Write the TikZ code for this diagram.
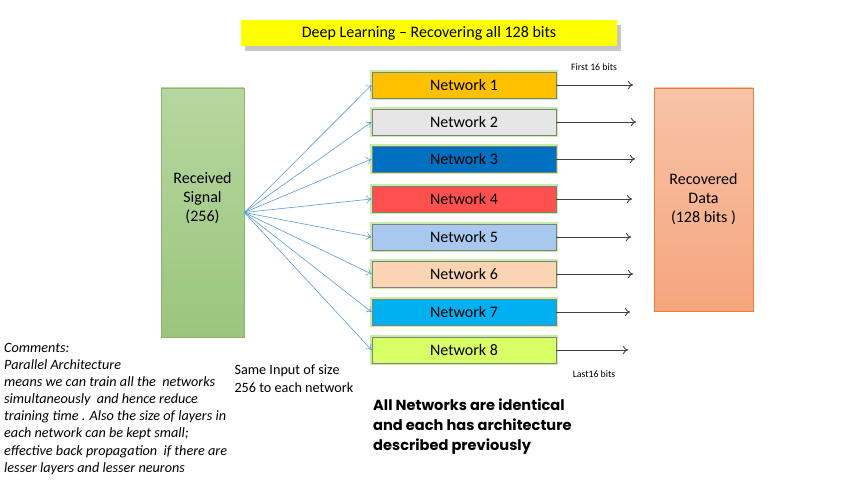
\documentclass[tikz,border=0pt]{standalone}
\usepackage{fontspec}
\setmainfont{Carlito}
\newfontfamily\geofont{Poppins}
\usepackage{xcolor}
\usepackage{tikz}
\usetikzlibrary{shadows, arrows.meta}
\definecolor{titleyellow}{RGB}{255, 255, 0}
\definecolor{signaltop}{RGB}{182, 215, 160}
\definecolor{signalbot}{RGB}{155, 197, 125}
\definecolor{signaledge}{RGB}{140, 180, 110}
\definecolor{datatop}{RGB}{248, 195, 168}
\definecolor{databot}{RGB}{245, 165, 126}
\definecolor{dataedge}{RGB}{237, 125, 49}
\definecolor{fanblue}{RGB}{91, 155, 213}
\definecolor{glowgreen}{RGB}{198, 236, 165}
\definecolor{netgold}{RGB}{255, 192, 0}
\definecolor{netgray}{RGB}{231, 230, 230}
\definecolor{netblue}{RGB}{0, 112, 192}
\definecolor{netred}{RGB}{255, 80, 80}
\definecolor{netsky}{RGB}{169, 200, 240}
\definecolor{netpeach}{RGB}{251, 212, 180}
\definecolor{netcyan}{RGB}{0, 176, 240}
\definecolor{netlime}{RGB}{217, 255, 102}

\begin{document}
\begin{tikzpicture}[x=1pt, y=-1pt,
    netbox/.style={preaction={draw=glowgreen, line width=4.5pt}, draw=black!50, line width=0.9pt,
        minimum width=184pt, minimum height=26pt, inner sep=0pt, font=\fontsize{16}{18}\selectfont},
    fan/.style={fanblue, line width=0.6pt, -{To[length=5pt, width=8pt]}},
    outarrow/.style={black!75, line width=0.9pt, -{To[length=5pt, width=8pt]}}]
\useasboundingbox (0,0) rectangle (863,481);
% title bar
\node[fill=titleyellow, minimum width=376pt, minimum height=26pt, inner sep=0pt,
    drop shadow={opacity=0.45, shadow xshift=4pt, shadow yshift=-5pt},
    font=\fontsize{16}{18}\selectfont] (title) at (429,33) {Deep Learning – Recovering all 128 bits};
% input and output blocks
\node[top color=signaltop, bottom color=signalbot, draw=signaledge, line width=0.6pt,
    minimum width=83pt, minimum height=249pt, inner sep=0pt] (signal) at (202.5,212.5) {};
\node[align=center, font=\fontsize{16}{19}\selectfont] (signaltext) at ([yshift=14pt]signal.center) {Received\\Signal\\(256)};
\node[top color=datatop, bottom color=databot, draw=dataedge, line width=0.8pt,
    minimum width=99pt, minimum height=223pt, inner sep=0pt, align=center,
    font=\fontsize{16}{19}\selectfont] (data) at (703.5,199.5) {Recovered\\Data\\(128 bits )};
% the eight networks
\foreach \i/\y/\col/\endx in {1/85/netgold/633, 2/122/netgray/636, 3/159/netblue/635, 4/199/netred/632,
    5/237/netsky/631, 6/274/netpeach/633, 7/312/netcyan/630, 8/350/netlime/628} {
    \node[netbox, fill=\col] (net\i) at (464,\y) {Network \i};
    \coordinate (out\i) at (\endx,\y);
    \draw[fan] (signal.east) -- (net\i.west);
    \draw[outarrow] (net\i.east) -- (out\i);
}
\node[font=\fontsize{9.8}{11}\selectfont] (first) at (594,67) {First 16 bits};
\node[font=\fontsize{9.8}{11}\selectfont] (last) at (594,374) {Last16 bits};
% notes
\node[anchor=north west, align=left, font=\fontsize{14.2}{18}\selectfont] (same) at (231,361)
    {Same Input of size\\256 to each network};
\node[anchor=north west, align=left, inner sep=0pt, font=\itshape\fontsize{14.2}{17.1}\selectfont] (comments) at (4,343)
    {Comments:\\Parallel Architecture\\means we can train all the \ networks\\simultaneously \ and hence reduce\\training time . Also the size of layers in\\each network can be kept small;\\effective back propagation \ if there are\\lesser layers and lesser neurons};
\node[anchor=north west, align=left, inner sep=0pt, font=\geofont\bfseries\fontsize{14.6}{20}\selectfont] (identical) at (373,399)
    {All Networks are identical\\and each has architecture\\described previously};
\end{tikzpicture}
\end{document}
